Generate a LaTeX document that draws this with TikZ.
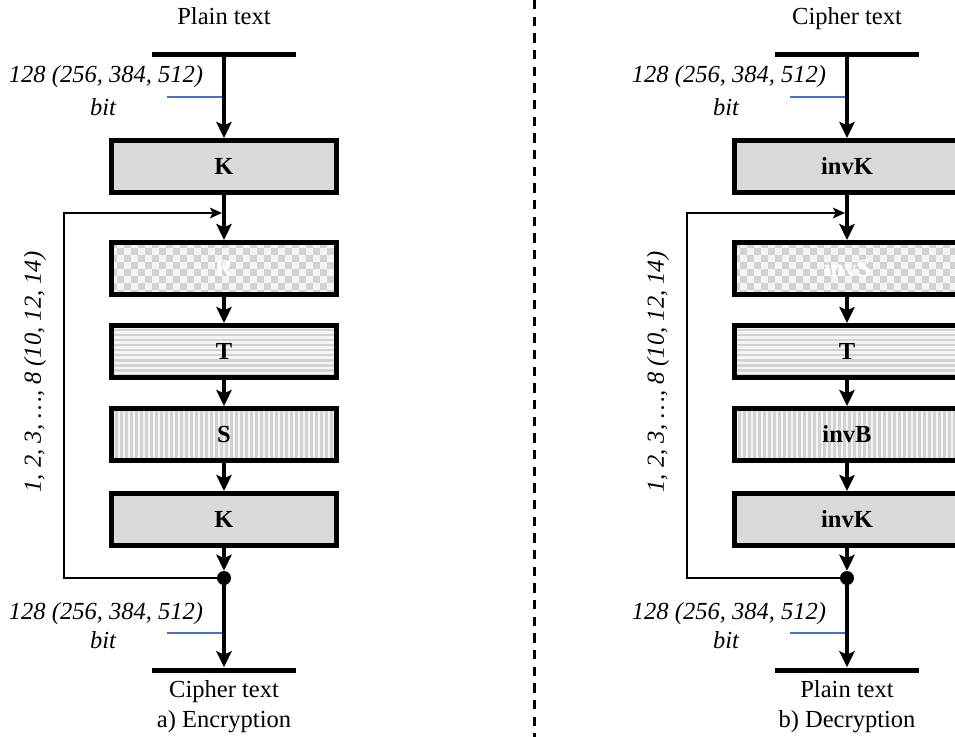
\documentclass[tikz,border=0pt]{standalone}
\usepackage{fontspec}
\setmainfont{Liberation Serif}
\usetikzlibrary{arrows.meta}
\definecolor{boxgray}{HTML}{D9D9D9}
\definecolor{patgray}{HTML}{D2D2D2}
\definecolor{patlight}{HTML}{F4F4F4}
\definecolor{bitblue}{HTML}{4472C4}
\newcommand\mycheckerat[2]{%
  \begin{scope}[shift={(#1,#2)}]
    \clip (-114,-27.5) rectangle (114,27.5);
    \fill[patlight] (-114,-27.5) rectangle (114,27.5);
    \foreach \i in {0,...,16}{\foreach \j in {0,...,4}{
      \fill[patgray] (-114+\i*14,-27.5+\j*14) rectangle ++(7,7);
      \fill[patgray] (-107+\i*14,-20.5+\j*14) rectangle ++(7,7);}}
  \end{scope}}
\newcommand\myhstripeat[2]{%
  \begin{scope}[shift={(#1,#2)}]
    \clip (-114,-27.5) rectangle (114,27.5);
    \fill[patlight] (-114,-27.5) rectangle (114,27.5);
    \foreach \j in {0,...,11}{
      \fill[patgray] (-114,-27.5+\j*5) rectangle ++(228,2.5);}
  \end{scope}}
\newcommand\myvstripeat[2]{%
  \begin{scope}[shift={(#1,#2)}]
    \clip (-114,-27.5) rectangle (114,27.5);
    \fill[patlight] (-114,-27.5) rectangle (114,27.5);
    \foreach \i in {0,...,46}{
      \fill[patgray] (-114+\i*5,-27.5) rectangle ++(2.5,55);}
  \end{scope}}
\begin{document}
\begin{tikzpicture}[x=0.75pt,y=-0.75pt,
  every node/.style={font=\fontsize{18.4}{21}\selectfont, inner sep=0pt},
  blk/.style={draw=black, line width=3.75pt, minimum width=168.75pt, minimum height=39pt,
    font=\fontsize{18.4}{21}\selectfont\bfseries},
  solidbox/.style={blk, fill=boxgray},
  checkbox/.style={blk, text=white},
  stripebox/.style={blk},
  bar/.style={fill=black, minimum width=108pt, minimum height=3.75pt},
  flow/.style={line width=3pt, -{Stealth[length=12pt,width=11.5pt,inset=2.5pt]}},
  fbline/.style={line width=1.5pt, -{Stealth[length=9pt,width=8pt,inset=2pt]}},
  bitline/.style={draw=bitblue, line width=1pt},
  dotnode/.style={circle, fill=black, minimum size=10.5pt},
  txt/.style={anchor=base},
  lab/.style={anchor=base, font=\fontsize{18.4}{21}\selectfont\itshape},
]
\clip (0,0) rectangle (955,737);

% separator
\coordinate (sepT) at (534,0);
\coordinate (sepB) at (534,737);
\draw[line width=2.25pt, dash pattern=on 7pt off 5.5pt] (sepT) -- (sepB);

% ===== Left: Encryption =====
\mycheckerat{224}{268.5}
\myhstripeat{224}{351.5}
\myvstripeat{224}{434.5}
\node[txt] (in1) at (224,25) {Plain text};
\node[bar] (top1) at (224,55) {};
\node[solidbox] (K1) at (224,166.5) {K};
\node[checkbox] (R1) at (224,268.5) {R};
\node[stripebox] (T1) at (224,351.5) {T};
\node[stripebox] (S1) at (224,434.5) {S};
\node[solidbox] (K2) at (224,519.5) {K};
\node[dotnode] (dot1) at (224,578) {};
\node[bar] (bot1) at (224,670) {};
\node[txt] (out1) at (224,697) {Cipher text};
\node[txt] (cap1) at (224,727) {a) Encryption};

\draw[flow] (top1.center) -- (K1.north);
\draw[flow] (K1.south) -- (R1.north);
\draw[flow] (R1.south) -- (T1.north);
\draw[flow] (T1.south) -- (S1.north);
\draw[flow] (S1.south) -- (K2.north);
\draw[flow] (K2.south) -- (dot1.north);
\draw[flow] (dot1.center) -- (bot1.north);

\coordinate (fbC1) at (64,213);
\coordinate (fbE1) at (222,213);
\draw[fbline] (dot1.center) -| (fbC1) -- (fbE1);

\node[lab] (bl1) at (106,83) {128 (256, 384, 512)};
\node[lab] (bb1) at (103,116) {bit};
\coordinate (bu1a) at (167,97);
\coordinate (bu1b) at (222,97);
\draw[bitline] (bu1a) -- (bu1b);

\node[lab] (bl2) at (106,619) {128 (256, 384, 512)};
\node[lab] (bb2) at (103,648) {bit};
\coordinate (bu2a) at (167,633);
\coordinate (bu2b) at (222,633);
\draw[bitline] (bu2a) -- (bu2b);

\node[lab, anchor=center, rotate=90] (rl1) at (35,372) {1, 2, 3, …, 8 (10, 12, 14)};

% ===== Right: Decryption =====
\mycheckerat{847}{268.5}
\myhstripeat{847}{351.5}
\myvstripeat{847}{434.5}
\node[txt] (in2) at (847,25) {Cipher text};
\node[bar] (top2) at (847,55) {};
\node[solidbox] (iK1) at (847,166.5) {invK};
\node[checkbox] (iS) at (847,268.5) {invS};
\node[stripebox] (T2) at (847,351.5) {T};
\node[stripebox] (iB) at (847,434.5) {invB};
\node[solidbox] (iK2) at (847,519.5) {invK};
\node[dotnode] (dot2) at (847,578) {};
\node[bar] (bot2) at (847,670) {};
\node[txt] (out2) at (847,697) {Plain text};
\node[txt] (cap2) at (847,727) {b) Decryption};

\draw[flow] (top2.center) -- (iK1.north);
\draw[flow] (iK1.south) -- (iS.north);
\draw[flow] (iS.south) -- (T2.north);
\draw[flow] (T2.south) -- (iB.north);
\draw[flow] (iB.south) -- (iK2.north);
\draw[flow] (iK2.south) -- (dot2.north);
\draw[flow] (dot2.center) -- (bot2.north);

\coordinate (fbC2) at (687,213);
\coordinate (fbE2) at (845,213);
\draw[fbline] (dot2.center) -| (fbC2) -- (fbE2);

\node[lab] (bl3) at (729,83) {128 (256, 384, 512)};
\node[lab] (bb3) at (726,116) {bit};
\coordinate (bu3a) at (790,97);
\coordinate (bu3b) at (845,97);
\draw[bitline] (bu3a) -- (bu3b);

\node[lab] (bl4) at (729,619) {128 (256, 384, 512)};
\node[lab] (bb4) at (726,648) {bit};
\coordinate (bu4a) at (790,633);
\coordinate (bu4b) at (845,633);
\draw[bitline] (bu4a) -- (bu4b);

\node[lab, anchor=center, rotate=90] (rl2) at (658,372) {1, 2, 3, …, 8 (10, 12, 14)};
\end{tikzpicture}
\end{document}
